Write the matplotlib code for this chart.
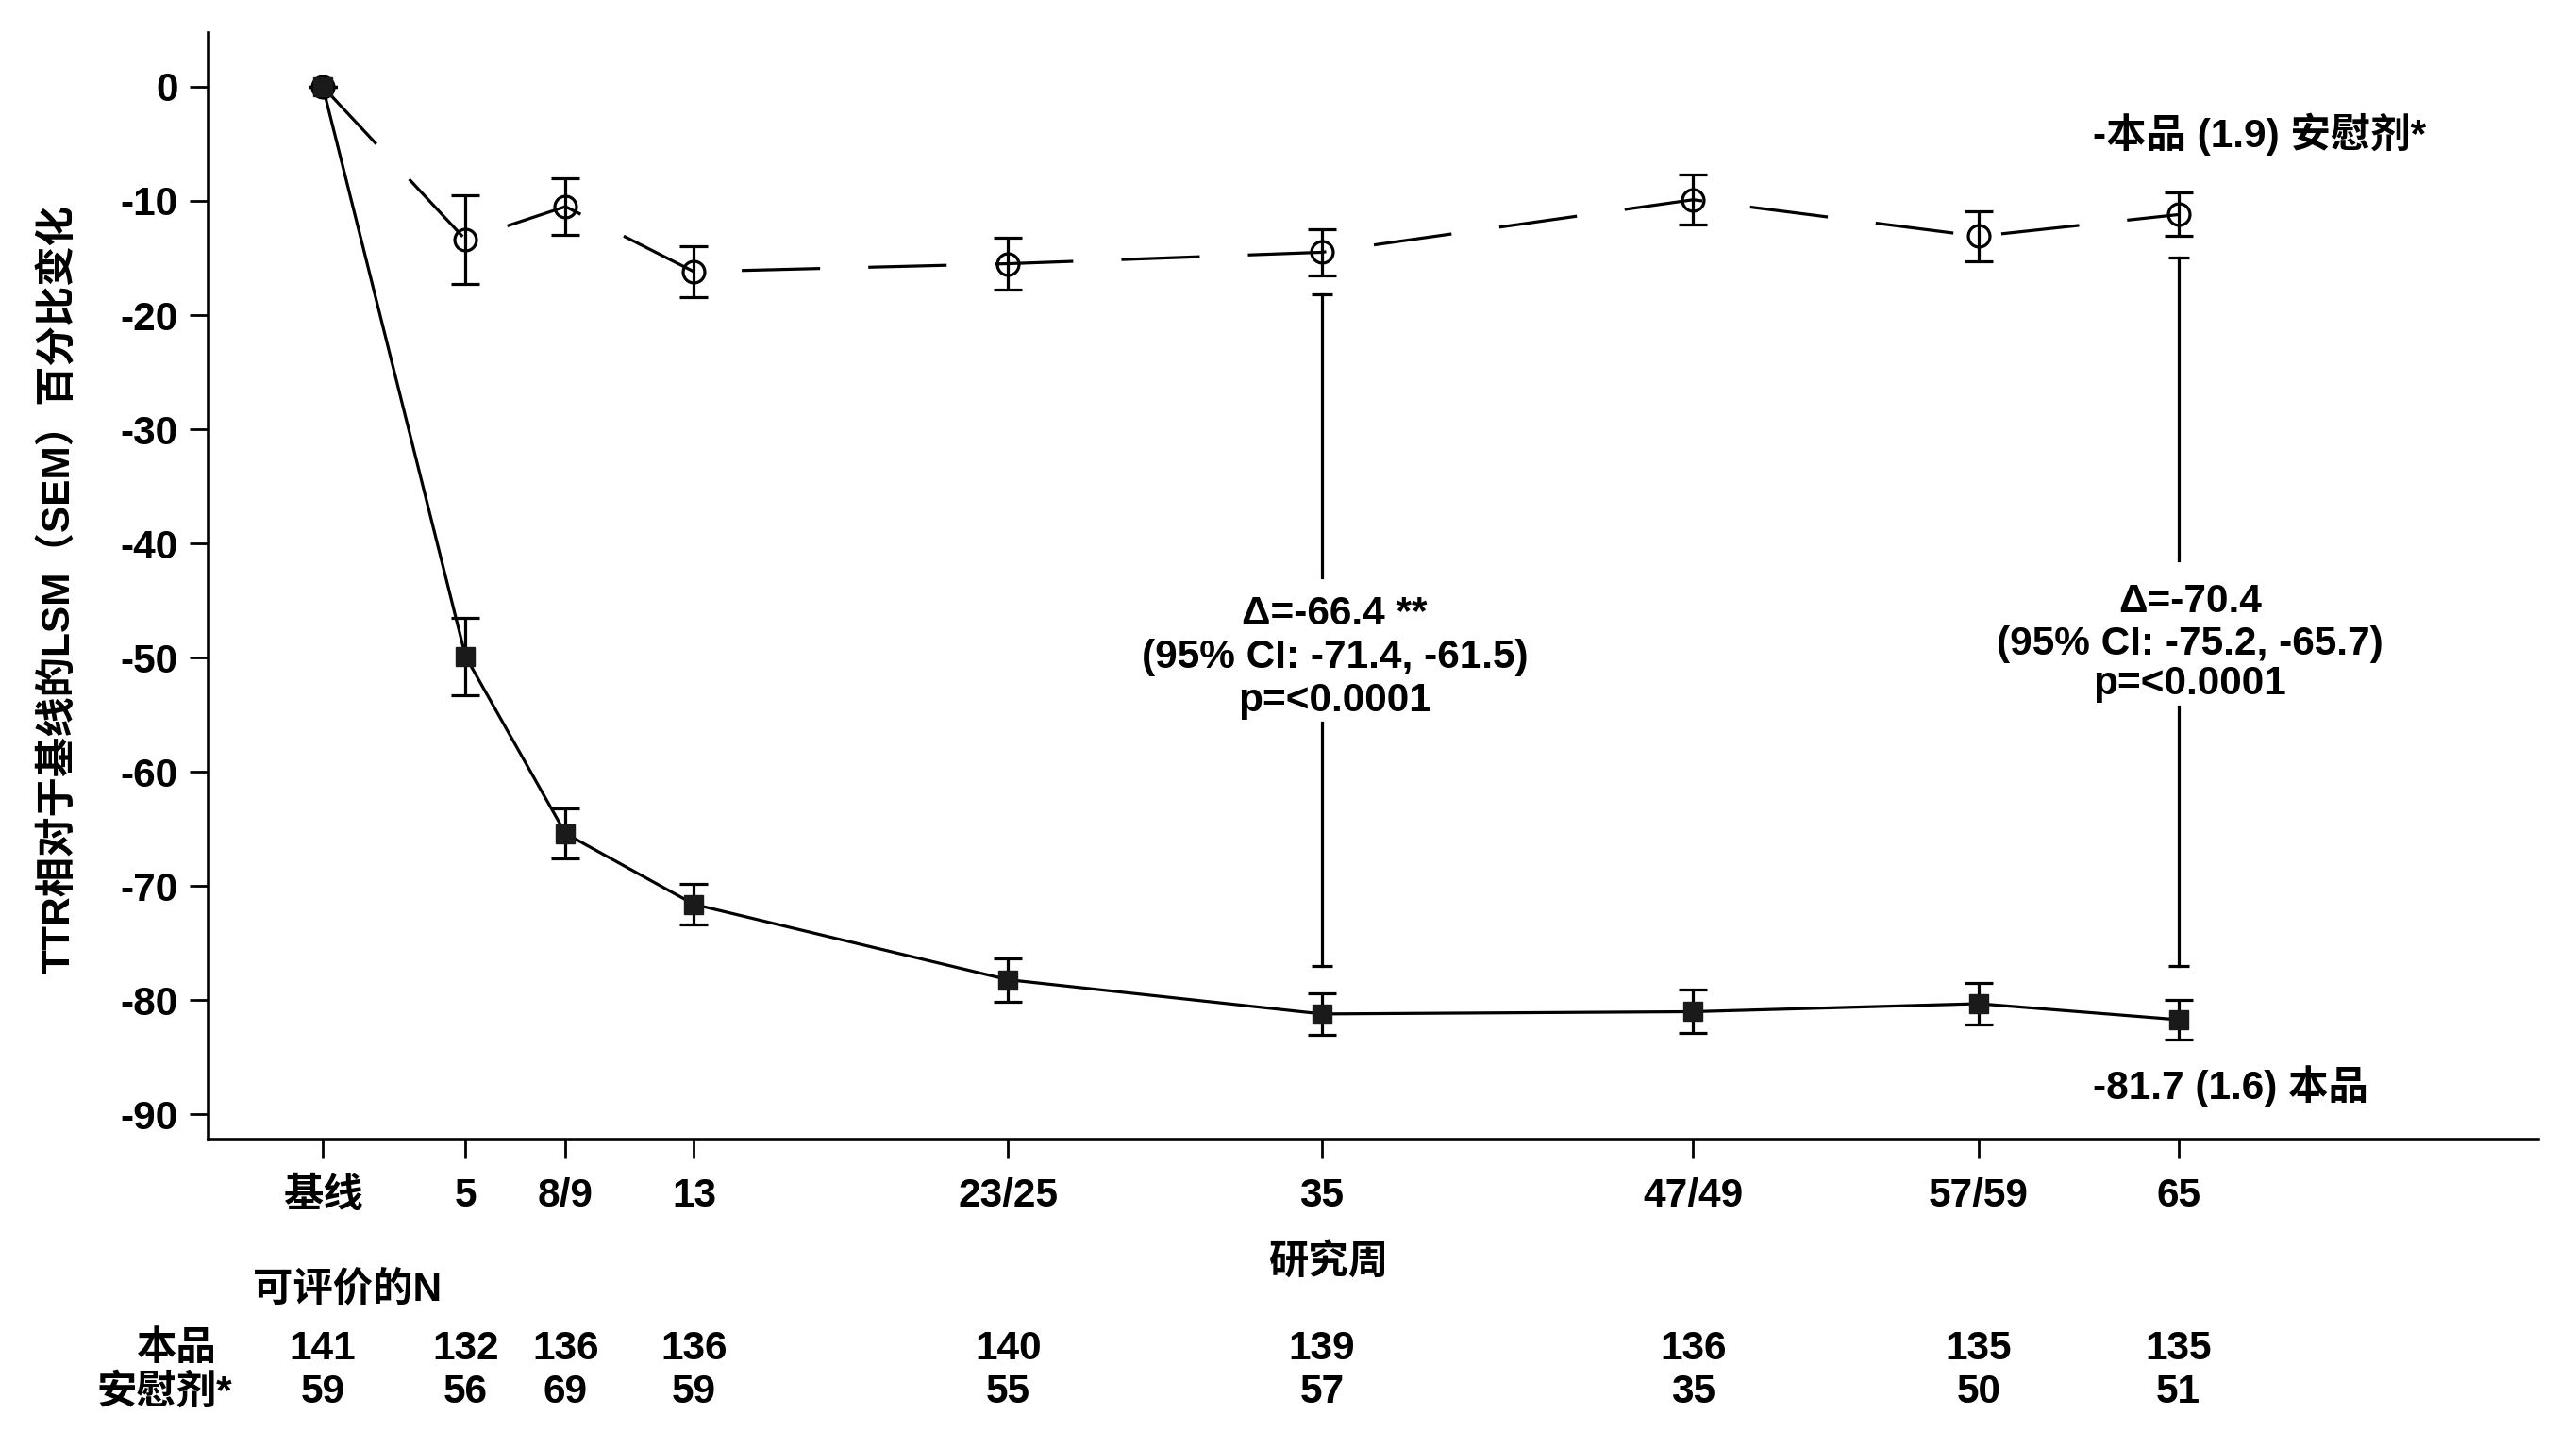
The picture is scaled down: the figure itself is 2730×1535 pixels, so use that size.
import matplotlib
matplotlib.use('Agg')
import matplotlib.pyplot as plt
from matplotlib.transforms import blended_transform_factory

plt.rcParams['font.family'] = ['Liberation Sans', 'Noto Sans CJK SC']
plt.rcParams['font.weight'] = 'bold'

# ---------------- data ----------------
weeks = [0, 5, 8.5, 13, 24, 35, 48, 58, 65]
week_labels = ['基线', '5', '8/9', '13', '23/25', '35', '47/49', '57/59', '65']

drug_mean = [0, -49.9, -65.4, -71.6, -78.2, -81.2, -81.0, -80.3, -81.7]
drug_sem = [0, 3.4, 2.2, 1.8, 1.9, 1.8, 1.9, 1.8, 1.7]
placebo_mean = [0, -13.4, -10.5, -16.2, -15.5, -14.5, -9.9, -13.1, -11.2]
placebo_sem = [0, 3.9, 2.5, 2.2, 2.3, 2.0, 2.2, 2.2, 1.9]

n_drug = [141, 132, 136, 136, 140, 139, 136, 135, 135]
n_placebo = [59, 56, 69, 59, 55, 57, 35, 50, 51]

y_ticks = [0, -10, -20, -30, -40, -50, -60, -70, -80, -90]

# difference brackets: week, top, bottom, text lines
diff_weeks = [35, 65]
diff_top = [-18.2, -15.0]
diff_bottom = [-77.0, -77.0]
diff_text = [["Δ=-66.4 **", "(95% CI: -71.4, -61.5)", "p=<0.0001"],
             ["Δ=-70.4", "(95% CI: -75.2, -65.7)", "p=<0.0001"]]

# ---------------- figure ----------------
FS = 30.5
LW = 2.3
fig = plt.figure(figsize=(27.3, 15.35), dpi=100)
ax = fig.add_axes([0.081, 0.213, 0.9043, 0.7642])

ax.errorbar(weeks, placebo_mean, yerr=placebo_sem, color='black', lw=LW,
            linestyle=(0, (26, 16)), marker='o', ms=16.5, mfc='none',
            mec='black', mew=LW, capsize=11, capthick=LW, elinewidth=LW,
            zorder=2)
ax.errorbar(weeks, drug_mean, yerr=drug_sem, color='black', lw=LW,
            linestyle='-', marker='s', ms=14.5, mfc='#1a1a1a', mec='#1a1a1a',
            capsize=11, capthick=LW, elinewidth=LW, zorder=3)

# difference brackets with gap for text
gaps = [(-43.0, -55.7), (-41.5, -54.3)]
text_x = [35.45, 65.4]
text_y = [[-46.2, -50.0, -53.8], [-45.1, -48.8, -52.3]]
for i, wk in enumerate(diff_weeks):
    g1, g2 = gaps[i]
    ax.plot([wk, wk], [diff_top[i], g1], color='black', lw=LW)
    ax.plot([wk, wk], [g2, diff_bottom[i]], color='black', lw=LW)
    ax.plot([wk, wk], [diff_top[i], diff_bottom[i]], linestyle='none',
            marker='_', ms=16, mew=LW, color='black')
    for line, yy in zip(diff_text[i], text_y[i]):
        ax.text(text_x[i], yy, line, ha='center', va='center', fontsize=FS)

ax.text(62.0, -4.2, '-本品 (1.9) 安慰剂*', ha='left', va='center', fontsize=FS)
ax.text(62.0, -87.5, '-81.7 (1.6) 本品', ha='left', va='center', fontsize=FS)

ax.set_xlim(-4.0, 77.6)
ax.set_ylim(-92.2, 4.7)
ax.set_xticks(weeks)
ax.set_xticklabels(week_labels)
ax.set_yticks(y_ticks)
ax.set_yticklabels([str(v) for v in y_ticks])
ax.tick_params(axis='y', length=14.5, width=2, pad=9, labelsize=FS)
ax.tick_params(axis='x', length=14.5, width=2, pad=14, labelsize=FS)
for s in ['top', 'right']:
    ax.spines[s].set_visible(False)
for s in ['left', 'bottom']:
    ax.spines[s].set_linewidth(2.6)

fig.text(0.0227, 0.593, 'TTR相对于基线的LSM（SEM）百分比变化', rotation=90,
         ha='center', va='center', fontsize=FS)
fig.text(0.5158, 0.128, '研究周', ha='center', va='center', fontsize=FS)
fig.text(0.0982, 0.1094, '可评价的N', ha='left', va='center', fontsize=FS)

trans = blended_transform_factory(ax.transData, fig.transFigure)
fig.text(0.0842, 0.0682, '本品', ha='right', va='center', fontsize=FS)
fig.text(0.0901, 0.0382, '安慰剂*', ha='right', va='center', fontsize=FS)
for wk, a, b in zip(weeks, n_drug, n_placebo):
    ax.text(wk, 0.0682, str(a), transform=trans, ha='center', va='center', fontsize=FS)
    ax.text(wk, 0.0382, str(b), transform=trans, ha='center', va='center', fontsize=FS)

fig.savefig('out.png', dpi=100, facecolor='white')
